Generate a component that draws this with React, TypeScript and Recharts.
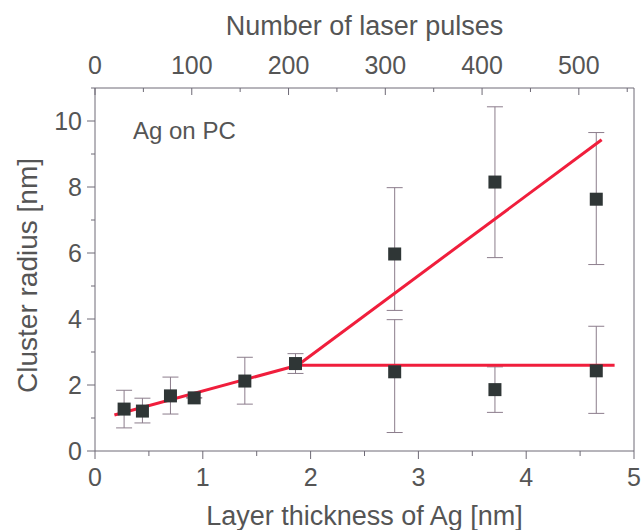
import React from "react";
import { ComposedChart, Scatter, ErrorBar, XAxis, YAxis, Label } from "recharts";

// measured points: layer thickness [nm] vs cluster radius [nm]
const thickness = [0.27, 0.44, 0.7, 0.92, 1.39, 1.86, 2.78, 2.78, 3.71, 3.71, 4.65, 4.65];
const radius = [1.27, 1.21, 1.67, 1.61, 2.12, 2.65, 5.97, 2.4, 8.15, 1.86, 7.63, 2.43];
const radiusLow = [0.7, 0.85, 1.12, 1.61, 1.42, 2.35, 4.26, 0.56, 5.86, 1.17, 5.65, 1.14];
const radiusHigh = [1.84, 1.6, 2.24, 1.61, 2.84, 2.95, 7.98, 3.98, 10.43, 2.55, 9.65, 3.78];

// fitted red lines
const fitLowX = [0.18, 1.88];
const fitLowY = [1.09, 2.6];
const fitUpX = [1.88, 4.7];
const fitUpY = [2.6, 9.43];
const fitFlatX = [1.88, 4.82];
const fitFlatY = [2.6, 2.6];

const xTicks = [0, 0.5, 1, 1.5, 2, 2.5, 3, 3.5, 4, 4.5, 5];
const yTicks = [0, 1, 2, 3, 4, 5, 6, 7, 8, 9, 10, 11];
const pulseTicks = [0, 50, 100, 150, 200, 250, 300, 350, 400, 450, 500, 550];
const pulseMax = 557; // 5 nm of Ag

const points = thickness.map((x, i) => ({
  x,
  y: radius[i],
  err: [radius[i] - radiusLow[i], radiusHigh[i] - radius[i]],
}));
const toLine = (xs: number[], ys: number[]) => xs.map((x, i) => ({ x, y: ys[i] }));
// only there so the top (pulses) axis gets a domain and is drawn
const pulseAnchor = [0, pulseMax].map((p) => ({ p, y: 0 }));

const AXIS = "#6e6a76";
const TEXT = "#555";
const FONT = "'Liberation Sans', Arial, sans-serif";
const RED = "#f01e3c";

const BottomTick = (p: any) => {
  const v = p.payload.value;
  const major = Number.isInteger(v);
  const y0 = p.y - 12;
  return (
    <g>
      <line x1={p.x} x2={p.x} y1={y0} y2={y0 + (major ? 8 : 5)} stroke={AXIS} />
      {major && (
        <text x={p.x} y={y0 + 35} textAnchor="middle" fontSize={25} fill={TEXT} fontFamily={FONT}>
          {v}
        </text>
      )}
    </g>
  );
};

const LeftTick = (p: any) => {
  const v = p.payload.value;
  const major = v % 2 === 0 && v <= 10;
  const x0 = p.x + 12;
  return (
    <g>
      <line x1={x0} x2={x0 - (major ? 8 : 4)} y1={p.y} y2={p.y} stroke={AXIS} />
      {major && (
        <text x={x0 - 13} y={p.y + 9} textAnchor="end" fontSize={25} fill={TEXT} fontFamily={FONT}>
          {v}
        </text>
      )}
    </g>
  );
};

const TopTick = (p: any) => {
  const v = p.payload.value;
  const major = v % 100 === 0;
  const y0 = p.y + 12;
  return (
    <g>
      <line x1={p.x} x2={p.x} y1={y0} y2={y0 + (major ? 7 : 4)} stroke={AXIS} />
      {major && (
        <text x={p.x} y={y0 - 14} textAnchor="middle" fontSize={25} fill={TEXT} fontFamily={FONT}>
          {v}
        </text>
      )}
    </g>
  );
};

const RightTick = (p: any) => {
  const x0 = p.x - 12;
  return <line x1={x0} x2={x0 - 6} y1={p.y} y2={p.y} stroke={AXIS} />;
};

const Square = (p: any) => (
  <rect x={p.cx - 6.5} y={p.cy - 6.5} width={13} height={13} fill="#2f3636" />
);
const Nothing = () => <g />;

export default function App() {
  return (
    <div style={{ position: "absolute", left: 0, top: 0, width: 643, height: 530, background: "#fff" }}>
      <ComposedChart width={643} height={530} margin={{ top: 0, right: 0, bottom: 0, left: 0 }}>
        <XAxis
          xAxisId="b"
          dataKey="x"
          type="number"
          domain={[0, 5]}
          ticks={xTicks}
          height={79}
          stroke={AXIS}
          tickLine={false}
          tickSize={8}
          tickMargin={4}
          tick={<BottomTick />}
          interval={0}
        >
          <Label
            content={(lp: any) => (
              <text
                x={lp.viewBox.x + lp.viewBox.width / 2}
                y={lp.viewBox.y + 74}
                textAnchor="middle"
                fontSize={27}
                fill={TEXT}
                fontFamily={FONT}
              >
                Layer thickness of Ag [nm]
              </text>
            )}
          />
        </XAxis>
        <XAxis
          xAxisId="t"
          dataKey="p"
          orientation="top"
          type="number"
          domain={[0, pulseMax]}
          ticks={pulseTicks}
          height={88}
          stroke={AXIS}
          tickLine={false}
          tickSize={8}
          tickMargin={4}
          tick={<TopTick />}
          interval={0}
        >
          <Label
            content={(lp: any) => (
              <text
                x={lp.viewBox.x + lp.viewBox.width / 2}
                y={lp.viewBox.y + 35}
                textAnchor="middle"
                fontSize={27}
                fill={TEXT}
                fontFamily={FONT}
              >
                Number of laser pulses
              </text>
            )}
          />
        </XAxis>
        <YAxis
          yAxisId="l"
          type="number"
          domain={[0, 11]}
          ticks={yTicks}
          width={95}
          stroke={AXIS}
          tickLine={false}
          tickSize={8}
          tickMargin={4}
          tick={<LeftTick />}
          interval={0}
        >
          <Label
            content={(lp: any) => {
              const cx = lp.viewBox.x + 27;
              const cy = lp.viewBox.y + lp.viewBox.height / 2 + 6;
              return (
                <text
                  x={cx}
                  y={cy}
                  transform={`rotate(-90 ${cx} ${cy})`}
                  textAnchor="middle"
                  dominantBaseline="central"
                  fontSize={28}
                  fill={TEXT}
                  fontFamily={FONT}
                >
                  Cluster radius [nm]
                </text>
              );
            }}
          />
        </YAxis>
        <YAxis
          yAxisId="r"
          orientation="right"
          type="number"
          domain={[0, 11]}
          ticks={yTicks}
          width={9}
          stroke={AXIS}
          tickLine={false}
          tickSize={8}
          tickMargin={4}
          tick={<RightTick />}
          interval={0}
        />
        <Scatter
          xAxisId="t"
          yAxisId="l"
          data={pulseAnchor}
          dataKey="y"
          shape={<Nothing />}
          isAnimationActive={false}
        />
        <Scatter
          xAxisId="b"
          yAxisId="l"
          data={points}
          dataKey="y"
          shape={<Nothing />}
          isAnimationActive={false}
        >
          <ErrorBar dataKey="err" direction="y" width={8} stroke="#8c7d8c" strokeWidth={1} />
        </Scatter>
        <Scatter
          xAxisId="b"
          yAxisId="l"
          data={toLine(fitLowX, fitLowY)}
          dataKey="y"
          line={{ stroke: RED, strokeWidth: 3 }}
          shape={<Nothing />}
          isAnimationActive={false}
        />
        <Scatter
          xAxisId="b"
          yAxisId="l"
          data={toLine(fitUpX, fitUpY)}
          dataKey="y"
          line={{ stroke: RED, strokeWidth: 3 }}
          shape={<Nothing />}
          isAnimationActive={false}
        />
        <Scatter
          xAxisId="b"
          yAxisId="l"
          data={toLine(fitFlatX, fitFlatY)}
          dataKey="y"
          line={{ stroke: RED, strokeWidth: 3 }}
          shape={<Nothing />}
          isAnimationActive={false}
        />
        <Scatter
          xAxisId="b"
          yAxisId="l"
          data={points}
          dataKey="y"
          shape={<Square />}
          isAnimationActive={false}
        />
      </ComposedChart>
      <div
        style={{
          position: "absolute",
          left: 133,
          top: 117,
          fontSize: 24,
          lineHeight: "28px",
          color: TEXT,
          fontFamily: FONT,
        }}
      >
        Ag on PC
      </div>
    </div>
  );
}
